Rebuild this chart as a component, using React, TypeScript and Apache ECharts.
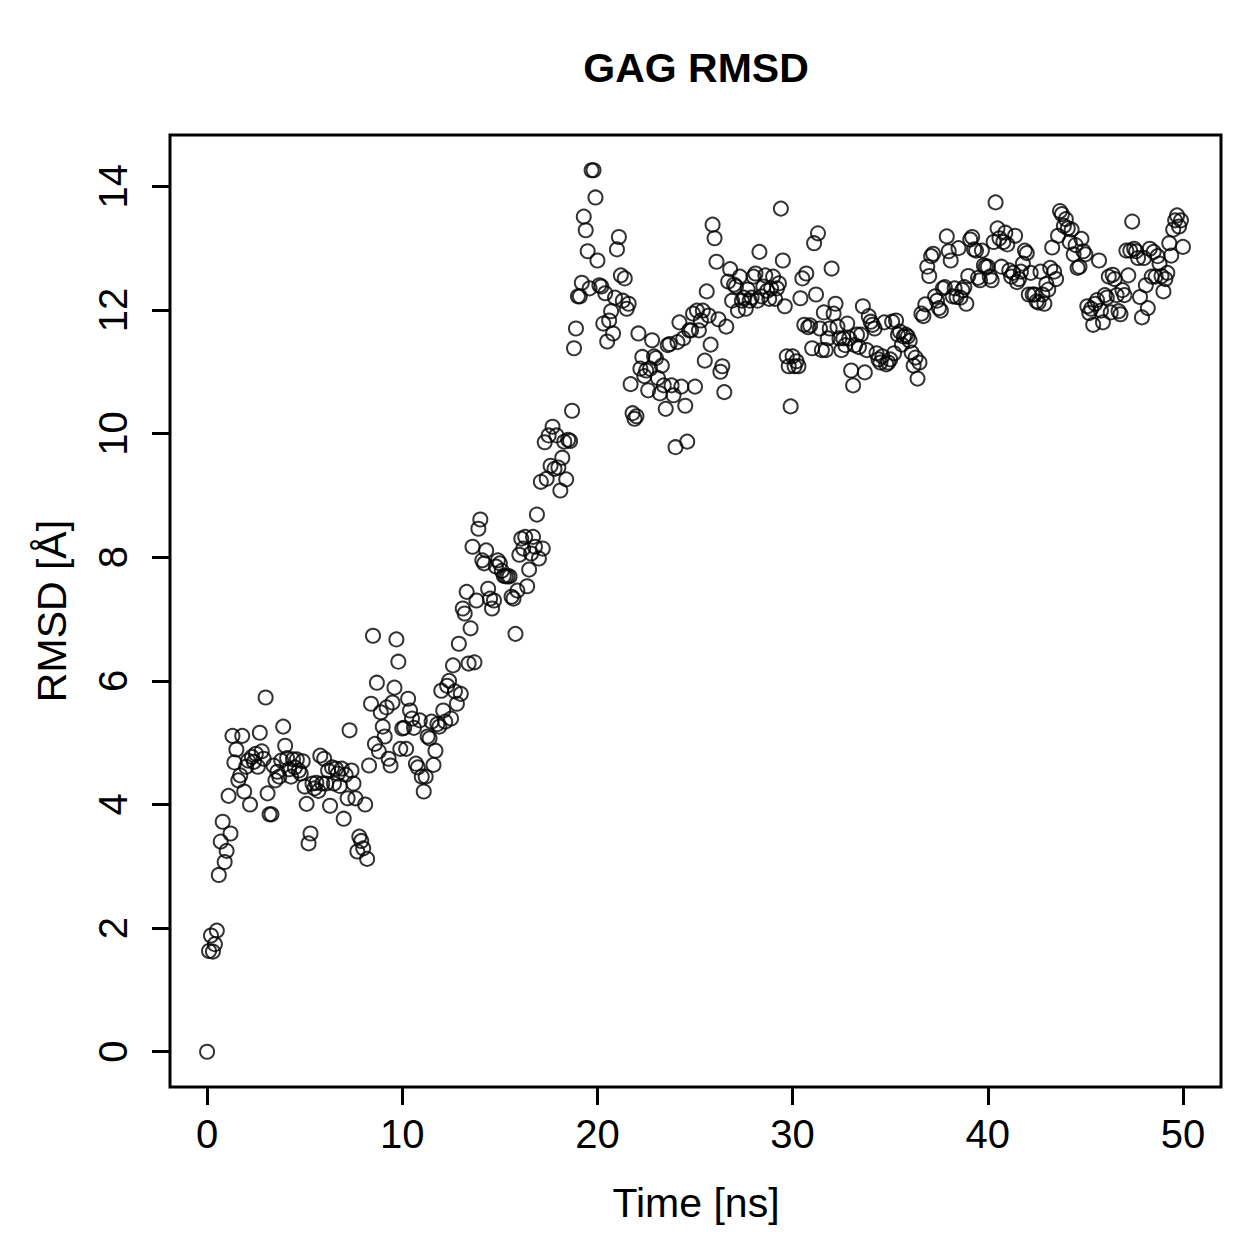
import React, { useEffect, useRef } from "react";
import * as echarts from "echarts";

// RMSD values (Å), one every 0.1 ns, in 5 ns blocks
const rmsd00to05 = [
  0, 1.63, 1.88, 1.62, 1.74, 1.96, 2.86, 3.40, 3.72, 3.07,
  3.25, 4.14, 3.53, 5.11, 4.68, 4.89, 4.39, 4.47, 5.11, 4.21,
  4.61, 4.71, 4.00, 4.77, 4.69, 4.82, 4.61, 5.16, 4.86, 4.74,
  5.73, 4.18, 3.84, 3.84, 4.63, 4.39, 4.53, 4.45, 4.71, 5.26,
  4.95, 4.75, 4.57, 4.45, 4.73, 4.60, 4.73, 4.55, 4.50, 4.70,
];
const rmsd05to10 = [
  4.29, 4.01, 3.37, 3.53, 4.34, 4.26, 4.35, 4.22, 4.79, 4.34,
  4.74, 4.34, 4.55, 3.98, 4.60, 4.34, 4.58, 4.50, 4.30, 4.58,
  3.77, 4.48, 4.10, 5.20, 4.55, 4.34, 4.10, 3.24, 3.48, 3.41,
  3.29, 4.00, 3.12, 4.63, 5.63, 6.73, 4.98, 5.97, 4.86, 5.49,
  5.26, 5.10, 5.57, 4.74, 4.63, 5.65, 5.89, 6.67, 6.31, 4.90,
];
const rmsd10to15 = [
  5.23, 5.24, 4.90, 5.71, 5.52, 5.39, 5.24, 4.66, 4.60, 5.36,
  4.45, 4.21, 4.45, 5.10, 5.07, 5.34, 4.64, 4.87, 5.30, 5.26,
  5.84, 5.52, 5.34, 5.92, 6.00, 5.39, 6.25, 5.83, 5.63, 6.60,
  5.79, 7.17, 7.09, 7.44, 6.28, 6.85, 8.17, 6.30, 7.30, 8.46,
  8.61, 7.95, 7.90, 8.11, 7.49, 7.33, 7.17, 7.30, 7.85, 7.95,
];
const rmsd15to20 = [
  7.90, 7.78, 7.70, 7.69, 7.69, 7.69, 7.36, 7.33, 6.76, 7.46,
  8.04, 8.30, 8.14, 8.33, 7.53, 7.80, 8.06, 8.33, 8.17, 8.69,
  7.98, 9.22, 8.14, 9.86, 9.27, 9.97, 9.48, 10.11, 9.43, 9.97,
  9.45, 9.08, 9.61, 9.87, 9.26, 9.90, 9.88, 10.37, 11.38, 11.70,
  12.22, 12.22, 12.44, 13.51, 13.29, 12.95, 12.35, 14.26, 14.26, 13.82,
];
const rmsd20to25 = [
  12.80, 12.40, 12.38, 11.78, 12.27, 11.49, 11.83, 11.98, 11.62, 12.20,
  12.98, 13.18, 12.56, 12.15, 12.51, 12.02, 12.10, 10.80, 10.33, 10.24,
  10.28, 11.62, 11.05, 11.24, 10.93, 11.02, 10.70, 11.05, 11.51, 11.25,
  11.22, 10.90, 10.65, 11.10, 10.78, 10.40, 11.43, 11.45, 10.78, 10.62,
  9.78, 11.48, 11.80, 10.76, 11.54, 10.45, 9.87, 11.67, 11.67, 11.94,
];
const rmsd25to30 = [
  10.76, 11.99, 11.67, 11.83, 11.99, 11.18, 12.30, 11.91, 11.44, 13.38,
  13.16, 12.78, 11.85, 11.00, 11.09, 10.67, 11.73, 12.46, 12.66, 12.15,
  12.41, 12.38, 11.99, 12.54, 12.15, 12.20, 12.02, 12.33, 12.15, 12.20,
  12.54, 12.59, 12.15, 12.94, 12.22, 12.38, 12.56, 12.31, 12.18, 12.35,
  12.54, 12.18, 12.35, 12.43, 13.64, 12.80, 12.06, 11.25, 11.09, 10.44,
];
const rmsd30to35 = [
  11.25, 11.09, 11.17, 11.09, 12.19, 12.51, 11.76, 12.59, 11.72, 11.75,
  11.38, 13.08, 12.25, 13.24, 11.70, 11.35, 11.96, 11.35, 11.54, 11.70,
  12.67, 11.94, 12.10, 11.73, 11.54, 11.35, 11.54, 11.43, 11.78, 11.54,
  11.02, 10.78, 11.43, 11.60, 11.40, 11.60, 12.06, 10.99, 11.35, 11.90,
  11.81, 11.76, 11.70, 11.30, 11.20, 11.15, 11.25, 11.80, 11.12, 11.15,
];
const rmsd35to40 = [
  11.20, 11.81, 11.30, 11.83, 11.60, 11.65, 11.44, 11.57, 11.60, 11.57,
  11.50, 11.31, 11.10, 11.23, 10.89, 11.15, 11.94, 11.90, 12.09, 12.70,
  12.55, 12.87, 12.91, 12.22, 12.15, 12.03, 11.99, 12.35, 12.37, 13.19,
  12.95, 12.80, 12.22, 12.35, 12.21, 13.00, 12.20, 12.32, 12.37, 12.10,
  12.55, 13.14, 13.18, 12.98, 12.96, 12.52, 12.48, 12.96, 12.72, 12.70,
];
const rmsd40to45 = [
  12.70, 12.54, 12.48, 13.10, 13.74, 13.32, 13.16, 12.70, 13.10, 13.25,
  13.06, 12.64, 12.54, 12.60, 13.20, 12.45, 12.50, 12.62, 12.75, 12.96,
  12.92, 12.25, 12.60, 12.25, 12.25, 12.14, 12.12, 12.62, 12.25, 12.10,
  12.42, 12.33, 12.68, 13.01, 12.62, 12.50, 13.20, 13.60, 13.55, 13.36,
  13.47, 13.32, 13.10, 13.30, 12.90, 13.05, 12.68, 12.70, 13.15, 12.95,
];
const rmsd45to50 = [
  12.90, 12.06, 11.95, 12.02, 11.76, 12.10, 12.16, 12.80, 11.99, 11.80,
  12.24, 12.20, 12.54, 11.96, 12.57, 12.50, 12.24, 11.98, 11.93, 12.32,
  12.24, 12.96, 12.56, 12.96, 13.43, 12.99, 12.95, 12.84, 12.21, 11.88,
  12.84, 12.40, 12.03, 12.99, 12.54, 12.94, 12.54, 12.87, 12.75, 12.55,
  12.30, 12.50, 12.60, 13.08, 12.88, 13.30, 13.45, 13.53, 13.35, 13.45,
];
const rmsdFinal = [13.02];

const timeStep = 0.1; // ns between frames
const xTicks = [0, 10, 20, 30, 40, 50];
const yTicks = [0, 2, 4, 6, 8, 10, 12, 14];

const titleText = "GAG RMSD";
const xTitle = "Time [ns]";
const yTitle = "RMSD [Å]";

const FONT = "'Liberation Sans', Arial, Helvetica, sans-serif";

export default function App() {
  const ref = useRef<HTMLDivElement>(null);

  useEffect(() => {
    if (!ref.current) return;
    const chart = echarts.init(ref.current, null, { renderer: "svg" });
    const values = [
      ...rmsd00to05, ...rmsd05to10, ...rmsd10to15, ...rmsd15to20, ...rmsd20to25,
      ...rmsd25to30, ...rmsd30to35, ...rmsd35to40, ...rmsd40to45, ...rmsd45to50,
      ...rmsdFinal,
    ];
    const data = values.map((v, i) => [Math.round(i * timeStep * 10) / 10, v]);

    chart.setOption({
      animation: false,
      backgroundColor: "#ffffff",
      grid: {
        left: 170,
        top: 135,
        width: 1051,
        height: 952,
        show: true,
        borderColor: "#000",
        borderWidth: 3,
        backgroundColor: "transparent",
      },
      xAxis: {
        type: "value",
        position: "bottom",
        min: -1.9,
        max: 51.95,
        axisLine: { show: false, onZero: false },
        splitLine: { show: false },
        axisTick: {
          show: true,
          length: 18,
          inside: false,
          customValues: xTicks,
          lineStyle: { color: "#000", width: 3 },
        },
        axisLabel: {
          customValues: xTicks,
          color: "#000",
          fontSize: 40,
          fontFamily: FONT,
          margin: 27,
        },
      },
      yAxis: {
        type: "value",
        position: "left",
        min: -0.5704,
        max: 14.8304,
        axisLine: { show: false, onZero: false },
        splitLine: { show: false },
        axisTick: {
          show: true,
          length: 18,
          inside: false,
          customValues: yTicks,
          lineStyle: { color: "#000", width: 3 },
        },
        axisLabel: {
          customValues: yTicks,
          color: "#000",
          fontSize: 40,
          fontFamily: FONT,
          rotate: 90,
          margin: 37,
        },
      },
      graphic: [
        {
          type: "text",
          x: 696,
          y: 68,
          style: {
            text: titleText,
            fontSize: 41,
            fontWeight: "bold",
            fontFamily: FONT,
            fill: "#000",
            textAlign: "center",
            textVerticalAlign: "middle",
          },
        },
        {
          type: "text",
          x: 696,
          y: 1203,
          style: {
            text: xTitle,
            fontSize: 41,
            fontFamily: FONT,
            fill: "#000",
            textAlign: "center",
            textVerticalAlign: "middle",
          },
        },
        {
          type: "text",
          x: 52,
          y: 611,
          rotation: Math.PI / 2,
          style: {
            text: yTitle,
            fontSize: 41,
            fontFamily: FONT,
            fill: "#000",
            textAlign: "center",
            textVerticalAlign: "middle",
          },
        },
      ],
      series: [
        {
          type: "scatter",
          data,
          symbol: "circle",
          symbolSize: 14,
          itemStyle: {
            color: "rgba(0,0,0,0)",
            borderColor: "#000",
            borderWidth: 2,
          },
          emphasis: { disabled: true },
          silent: true,
        },
      ],
    });

    return () => chart.dispose();
  }, []);

  return (
    <div
      ref={ref}
      style={{ position: "fixed", left: 0, top: 0, width: 1259, height: 1259, background: "#fff" }}
    />
  );
}
